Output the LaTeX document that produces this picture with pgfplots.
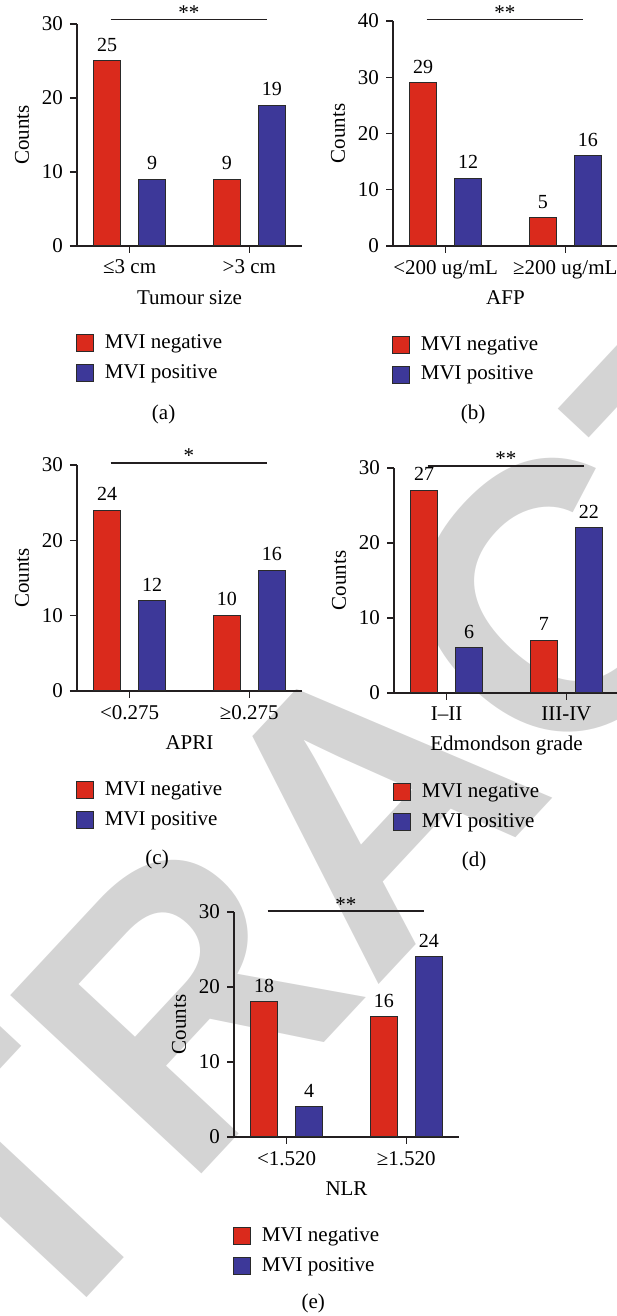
\documentclass[border=0pt]{standalone}
\usepackage{pgfplots}
\pgfplotsset{compat=1.18}
\usepackage{fontspec}
\setmainfont{Liberation Serif}
\newfontfamily\wmfont{Liberation Sans}
\definecolor{mred}{HTML}{DA2A1C}
\definecolor{mblue}{HTML}{3D3899}
\definecolor{axcol}{HTML}{231F20}
\definecolor{bardraw}{HTML}{2A2A2A}
\definecolor{wm}{HTML}{D4D4D4}
\newcommand\lbl{\fontsize{10.5pt}{12.6pt}\selectfont}
\newcommand\vals{\fontsize{10pt}{12pt}\selectfont}
\pgfplotsset{
  sqlegend/.style={legend image code/.code={\draw[##1] (0pt,-4.25pt) rectangle (8.5pt,4.25pt);}},
  panel/.style={
    scale only axis, width=112.5pt, xmin=-0.44, xmax=1.44, ymin=0,
    axis x line=bottom, axis y line=left,
    axis line style={-, line width=0.65pt, color=axcol},
    x axis line style={shorten <=-3.5pt},
    tick style={line width=0.65pt, color=axcol},
    tick align=outside, major tick length=3.5pt,
    xtick={0,1}, ytick distance=10,
    /pgf/number format/assume math mode=true,
    tick label style={font=\lbl},
    ybar, bar width=13.5pt, sqlegend,
    clip=false,
    nodes near coords,
    nodes near coords style={font=\vals, anchor=south, inner sep=0pt, yshift=4.5pt, text=black},
    every axis y label/.style={at={(axis description cs:-0.244,0.5)}, rotate=90, anchor=center, font=\lbl},
    every axis x label/.style={at={(axis description cs:0.5,0)}, yshift=-26pt, anchor=center, font=\lbl},
    ylabel={Counts},
    legend cell align=left,
    legend style={at={(axis description cs:-0.005,-0.392)}, anchor=north west, draw=none, fill=none,
      inner sep=0pt, outer sep=0pt, row sep=4.5pt, column sep=4.5pt, font=\lbl, nodes={inner sep=1pt}},
  },
  neg/.style={fill=mred, draw=bardraw, line width=0.5pt, bar shift=-11.25pt},
  pos/.style={fill=mblue, draw=bardraw, line width=0.5pt, bar shift=11.25pt},
}
\begin{document}
\begin{tikzpicture}
\useasboundingbox (0,0) rectangle (308pt,658pt);
\node[rotate=47, text=wm, inner sep=0pt] at (185pt,257pt) {\wmfont\bfseries\fontsize{190pt}{190pt}\selectfont RETRACTED};

% (a)
\begin{axis}[panel, at={(38.5pt,535pt)}, anchor=south west, height=111pt, ymax=30,
  xticklabels={≤3 cm, >3 cm}, xlabel={Tumour size}]
\addplot[neg] coordinates {(0,25) (1,9)};
\addplot[pos] coordinates {(0,9) (1,19)};
\legend{MVI negative, MVI positive}
\draw[line width=0.65pt, color=axcol] (axis cs:-0.16,30.64) -- (axis cs:1.15,30.64);
\node[font=\lbl, anchor=base, inner sep=0pt] at (axis cs:0.495,30.64) {**};
\node[font=\lbl, yshift=-84pt] at (axis description cs:0.385,0) {(a)};
\end{axis}

% (b)
\begin{axis}[panel, at={(196.5pt,535pt)}, anchor=south west, height=112.5pt, ymax=40,
  xticklabels={<200 ug/mL, ≥200 ug/mL}, xlabel={AFP}]
\addplot[neg] coordinates {(0,29) (1,5)};
\addplot[pos] coordinates {(0,12) (1,16)};
\legend{MVI negative, MVI positive}
\draw[line width=0.65pt, color=axcol] (axis cs:-0.16,40.3) -- (axis cs:1.15,40.3);
\node[font=\lbl, anchor=base, inner sep=0pt] at (axis cs:0.495,40.3) {**};
\node[font=\lbl, yshift=-84pt] at (axis description cs:0.356,0) {(b)};
\end{axis}

% (c)
\begin{axis}[panel, at={(38.5pt,312.5pt)}, anchor=south west, height=113pt, ymax=30,
  xticklabels={<0.275, ≥0.275}, xlabel={APRI}]
\addplot[neg] coordinates {(0,24) (1,10)};
\addplot[pos] coordinates {(0,12) (1,16)};
\legend{MVI negative, MVI positive}
\draw[line width=0.65pt, color=axcol] (axis cs:-0.16,30.28) -- (axis cs:1.15,30.28);
\node[font=\lbl, anchor=base, inner sep=0pt] at (axis cs:0.495,30.28) {*};
\node[font=\lbl, yshift=-84pt] at (axis description cs:0.356,0) {(c)};
\end{axis}

% (d)
\begin{axis}[panel, at={(197pt,311.5pt)}, anchor=south west, height=112.5pt, ymax=30,
  xticklabels={I–II, III-IV}, xlabel={Edmondson grade}]
\addplot[neg] coordinates {(0,27) (1,7)};
\addplot[pos] coordinates {(0,6) (1,22)};
\legend{MVI negative, MVI positive}
\draw[line width=0.65pt, color=axcol] (axis cs:-0.16,30.27) -- (axis cs:1.15,30.27);
\node[font=\lbl, anchor=base, inner sep=0pt] at (axis cs:0.495,30.27) {**};
\node[font=\lbl, yshift=-84pt] at (axis description cs:0.356,0) {(d)};
\end{axis}

% (e)
\begin{axis}[panel, at={(117pt,89.5pt)}, anchor=south west, height=112.5pt, ymax=30,
  xticklabels={<1.520, ≥1.520}, xlabel={NLR}]
\addplot[neg] coordinates {(0,18) (1,16)};
\addplot[pos] coordinates {(0,4) (1,24)};
\legend{MVI negative, MVI positive}
\draw[line width=0.65pt, color=axcol] (axis cs:-0.16,30.13) -- (axis cs:1.15,30.13);
\node[font=\lbl, anchor=base, inner sep=0pt] at (axis cs:0.495,30.13) {**};
\node[font=\lbl, yshift=-83pt] at (axis description cs:0.352,0) {(e)};
\end{axis}
\end{tikzpicture}
\end{document}
